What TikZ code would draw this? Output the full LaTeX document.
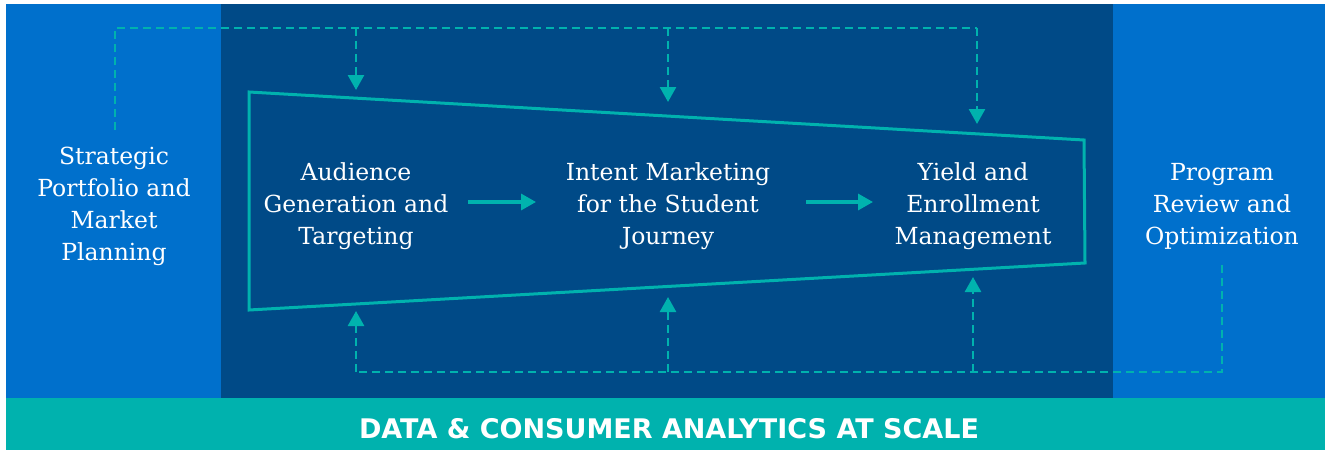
\documentclass[tikz,border=0pt]{standalone}
\usepackage{fontspec}
\setmainfont{DejaVu Serif}
\setsansfont{DejaVu Sans}
\usetikzlibrary{arrows.meta}
\definecolor{lblue}{HTML}{0070CC}
\definecolor{navy}{HTML}{004A87}
\definecolor{teal}{HTML}{00B2AE}
\tikzset{
  lbl/.style={text=white, align=center, font=\fontsize{23.5}{32}\selectfont, inner sep=0pt},
  fb/.style={draw=teal, line width=2.6pt, dash pattern=on 8pt off 5pt},
  fbarrow/.style={fb, -{Triangle[width=16pt,length=15pt]}},
  flow/.style={draw=teal, line width=3.2pt, -{Triangle[width=16pt,length=15pt]}},
}
\begin{document}
\begin{tikzpicture}[x=1pt,y=-1pt]
\useasboundingbox (0,0) rectangle (1329,452);
\fill[white] (0,0) rectangle (1329,452);
\fill[lblue] (6,4) rectangle (221,398);
\fill[navy] (221,4) rectangle (1113,398);
\fill[lblue] (1113,4) rectangle (1325,398);
\fill[teal] (6,398) rectangle (1325,450);
% funnel
\draw[teal, line width=3pt] (249,92) -- (1084,140) -- (1085,263) -- (249,310) -- cycle;
% labels
\node[lbl] (spm) at (114,206) {Strategic\\Portfolio and\\Market\\Planning};
\node[lbl] (agt) at (356,206) {Audience\\Generation and\\Targeting};
\node[lbl] (imj) at (668,206) {Intent Marketing\\for the Student\\Journey};
\node[lbl] (yem) at (973,206) {Yield and\\Enrollment\\Management};
\node[lbl] (pro) at (1222,206) {Program\\Review and\\Optimization};
\node[text=white, font=\sffamily\bfseries\fontsize{27}{30}\selectfont, inner sep=0pt] (data) at (669,429) {DATA \& CONSUMER ANALYTICS AT SCALE};
% flow arrows
\coordinate (a1s) at (468,202);
\coordinate (a1e) at (536,202);
\coordinate (a2s) at (806,202);
\coordinate (a2e) at (873,202);
\draw[flow] (a1s) -- (a1e);
\draw[flow] (a2s) -- (a2e);
% top feedback
\coordinate (ts) at (115,130);
\coordinate (t1) at (356,90);
\coordinate (t2) at (668,102);
\coordinate (t3) at (977,124);
\draw[fb] (ts) -- (115,28) -- (977,28);
\draw[fbarrow] (356,28) -- (t1);
\draw[fbarrow] (668,28) -- (t2);
\draw[fbarrow] (977,28) -- (t3);
% bottom feedback
\coordinate (bs) at (1222,265);
\coordinate (b1) at (356,311);
\coordinate (b2) at (668,297);
\coordinate (b3) at (973,277);
\draw[fb] (bs) -- (1222,372) -- (356,372);
\draw[fbarrow] (356,372) -- (b1);
\draw[fbarrow] (668,372) -- (b2);
\draw[fbarrow] (973,372) -- (b3);
\end{tikzpicture}
\end{document}
